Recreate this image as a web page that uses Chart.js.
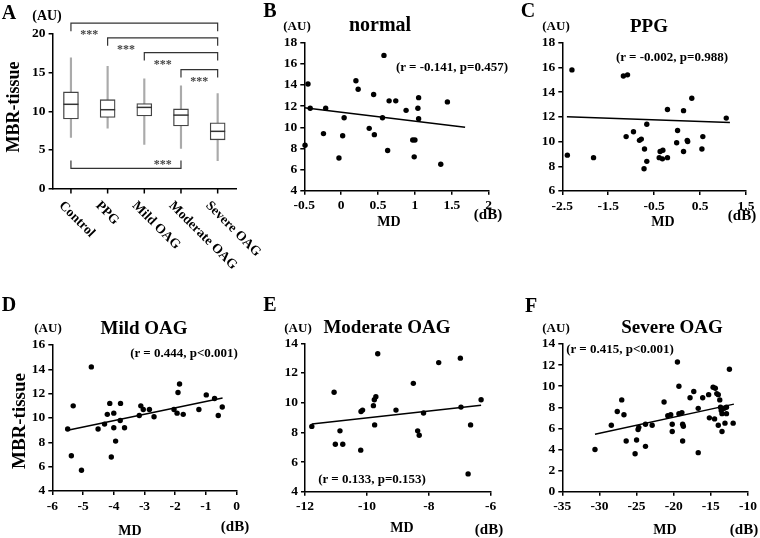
<!DOCTYPE html>
<html>
<head>
<meta charset="utf-8">
<script src="https://cdn.jsdelivr.net/npm/chart.js@4.4.1/dist/chart.umd.min.js"></script>
<style>
    body { margin: 0; width: 760px; height: 538px; position: relative; background: #fff; overflow: hidden;
           font-family: "Liberation Serif", "Times New Roman", serif; font-weight: bold; color: #000; }
    canvas { position: absolute; }
    .t { position: absolute; white-space: nowrap; line-height: 1; transform: translate(-50%, -50%); z-index: 2; }
    .r { transform: translate(-50%, -50%) rotate(-90deg); }
</style>
</head>
<body>
<canvas id="cA" width="275" height="270" style="left:0;top:0"></canvas>
<canvas id="cB" width="255" height="270" style="left:250px;top:0"></canvas>
<canvas id="cC" width="255" height="270" style="left:505px;top:0"></canvas>
<canvas id="cD" width="250" height="268" style="left:0;top:270px"></canvas>
<canvas id="cE" width="255" height="268" style="left:250px;top:270px"></canvas>
<canvas id="cF" width="255" height="268" style="left:505px;top:270px"></canvas>

<!-- panel A -->
<div class="t" style="left:9px;top:12px;font-size:20px">A</div>
<div class="t" style="left:47px;top:16px;font-size:14px">(AU)</div>
<div class="t r" style="left:13px;top:107px;font-size:18px">MBR-tissue</div>
<!-- panel B -->
<div class="t" style="left:270px;top:10px;font-size:20px">B</div>
<div class="t" style="left:297px;top:25px;font-size:13px">(AU)</div>
<div class="t" style="left:380px;top:24px;font-size:20px">normal</div>
<div class="t" style="left:452px;top:66px;font-size:13px">(r = -0.141, p=0.457)</div>
<div class="t" style="left:389px;top:222px;font-size:14px">MD</div>
<div class="t" style="left:488px;top:214px;font-size:15px">(dB)</div>
<!-- panel C -->
<div class="t" style="left:528px;top:10px;font-size:20px">C</div>
<div class="t" style="left:556px;top:25px;font-size:13px">(AU)</div>
<div class="t" style="left:649px;top:25px;font-size:19px">PPG</div>
<div class="t" style="left:672px;top:56px;font-size:13px">(r = -0.002, p=0.988)</div>
<div class="t" style="left:663px;top:222px;font-size:14px">MD</div>
<div class="t" style="left:742px;top:215px;font-size:15px">(dB)</div>
<!-- panel D -->
<div class="t" style="left:9px;top:304px;font-size:20px">D</div>
<div class="t" style="left:48px;top:327px;font-size:13px">(AU)</div>
<div class="t" style="left:144px;top:327px;font-size:19px">Mild OAG</div>
<div class="t r" style="left:18px;top:421px;font-size:19px">MBR-tissue</div>
<div class="t" style="left:184px;top:352px;font-size:13px">(r = 0.444, p&lt;0.001)</div>
<div class="t" style="left:130px;top:531px;font-size:14px">MD</div>
<div class="t" style="left:235px;top:526px;font-size:15px">(dB)</div>
<!-- panel E -->
<div class="t" style="left:270px;top:304px;font-size:20px">E</div>
<div class="t" style="left:298px;top:327px;font-size:13px">(AU)</div>
<div class="t" style="left:387px;top:326px;font-size:19px">Moderate OAG</div>
<div class="t" style="left:372px;top:478px;font-size:13px">(r = 0.133, p=0.153)</div>
<div class="t" style="left:402px;top:528px;font-size:14px">MD</div>
<div class="t" style="left:489px;top:529px;font-size:15px">(dB)</div>
<!-- panel F -->
<div class="t" style="left:531px;top:305px;font-size:20px">F</div>
<div class="t" style="left:556px;top:327px;font-size:13px">(AU)</div>
<div class="t" style="left:672px;top:326px;font-size:19px">Severe OAG</div>
<div class="t" style="left:620px;top:348px;font-size:13px">(r = 0.415, p&lt;0.001)</div>
<div class="t" style="left:665px;top:530px;font-size:14px">MD</div>
<div class="t" style="left:744px;top:529px;font-size:15px">(dB)</div>

<script>
// ---- panel A: MBR-tissue by group (box plot) ----
const groups = ["Control", "PPG", "Mild OAG", "Moderate OAG", "Severe OAG"];
const whiskerLow = [6.6, 7.8, 5.7, 5.2, 3.6];
const q1 = [9.0, 9.2, 9.4, 8.1, 6.3];
const medians = [10.9, 10.2, 10.5, 9.5, 7.4];
const q3 = [12.5, 11.5, 11.0, 10.3, 8.5];
const whiskerHigh = [16.9, 15.8, 14.2, 13.3, 12.3];

// significance brackets (group index from/to, height in AU)
const bracketFrom = [0, 1, 2, 3, 0];
const bracketTo = [4, 4, 4, 4, 3];
const bracketLevel = [21.4, 19.5, 17.6, 15.4, 2.6];

// ---- panels B-F: MBR-tissue vs MD ----
const normalMD = [-0.49, -0.45, -0.42, -0.21, -0.24, -0.03, 0.02, 0.04, 0.20, 0.23, 0.38, 0.44, 0.45, 0.58, 0.56, 0.63, 0.65, 0.74, 0.88, 0.97, 1.00, 0.99, 1.04, 1.05, 1.05, 1.35, 1.44];
const normalMBR = [8.3, 14.1, 11.8, 11.8, 9.4, 7.1, 9.2, 10.9, 14.4, 13.6, 9.9, 13.1, 9.3, 16.8, 10.9, 7.8, 12.5, 12.5, 11.6, 8.8, 8.8, 7.2, 11.8, 12.8, 10.8, 6.5, 12.4];
const normalFitX = [-0.5, 1.68];
const normalFitY = [11.85, 10.0];

const ppgMD = [-2.39, -2.29, -1.82, -1.17, -1.08, -1.11, -0.95, -0.82, -0.78, -0.71, -0.72, -0.66, -0.66, -0.39, -0.37, -0.31, -0.32, -0.21, -0.21, -0.01, 0.01, 0.14, 0.14, 0.22, 0.23, 0.32, 0.54, 0.56, 1.07];
const ppgMBR = [8.9, 15.8, 8.7, 15.3, 15.4, 10.4, 10.8, 10.1, 10.2, 9.4, 7.8, 8.4, 11.4, 8.7, 9.2, 9.3, 8.6, 8.7, 12.6, 9.9, 10.9, 12.5, 9.2, 10.1, 10.0, 13.5, 9.4, 10.4, 11.9];
const ppgFitX = [-2.4, 1.15];
const ppgFitY = [12.0, 11.55];

const mildMD = [-5.50, -5.32, -5.38, -5.05, -4.73, -4.51, -4.30, -4.21, -4.13, -4.08, -4.00, -4.00, -3.94, -3.78, -3.79, -3.65, -3.17, -3.12, -3.04, -2.84, -2.69, -2.04, -1.94, -1.91, -1.86, -1.74, -1.23, -0.99, -0.72, -0.60, -0.47];
const mildMBR = [9.1, 11.0, 6.9, 5.7, 14.2, 9.1, 9.5, 10.3, 11.2, 6.8, 10.4, 9.2, 8.1, 11.2, 9.8, 9.2, 10.2, 11.0, 10.7, 10.7, 10.1, 10.7, 10.4, 12.1, 12.8, 10.3, 10.7, 11.9, 11.6, 10.2, 10.9];
const mildFitX = [-5.5, -0.46];
const mildFitY = [9.0, 11.65];

const moderateMD = [-11.78, -11.06, -11.02, -10.87, -10.78, -10.20, -10.19, -10.14, -9.79, -9.76, -9.71, -9.75, -9.65, -9.06, -8.50, -8.36, -8.31, -8.17, -7.68, -6.98, -6.96, -6.73, -6.65, -6.31];
const moderateMBR = [8.4, 10.7, 7.2, 8.1, 7.2, 6.8, 9.4, 9.5, 9.8, 10.2, 10.4, 8.5, 13.3, 9.5, 11.3, 8.1, 7.8, 9.3, 12.7, 13.0, 9.7, 5.2, 8.5, 10.2];
const moderateFitX = [-11.78, -6.31];
const moderateFitY = [8.56, 9.82];

const severeMD = [-30.6, -28.4, -27.6, -27.0, -26.7, -26.4, -25.2, -25.0, -24.8, -24.7, -23.8, -23.8, -22.9, -21.3, -20.8, -20.4, -20.2, -20.2, -19.5, -19.3, -19.3, -18.9, -18.8, -18.7, -18.8, -17.8, -17.3, -16.7, -16.7, -16.1, -15.3, -15.2, -14.7, -14.5, -14.4, -14.2, -14.0, -14.0, -13.8, -13.7, -13.6, -13.5, -13.5, -13.2, -13.1, -12.9, -12.9, -12.5, -12.0];
const severeMBR = [4.0, 6.3, 7.6, 8.7, 7.3, 4.8, 3.6, 4.9, 5.9, 6.1, 6.4, 4.3, 6.3, 8.5, 7.2, 7.3, 6.4, 5.7, 12.3, 10.0, 7.4, 7.5, 6.4, 6.2, 4.8, 8.9, 9.5, 7.9, 3.7, 8.9, 9.2, 7.0, 9.9, 6.9, 9.8, 9.3, 9.2, 6.3, 8.7, 8.0, 7.7, 7.4, 5.7, 7.9, 6.5, 7.4, 8.0, 11.6, 6.5];
const severeFitX = [-30.6, -11.9];
const severeFitY = [5.45, 8.3];

const serif = "'Liberation Serif', 'Times New Roman', serif";
const tickFont = { family: serif, weight: "bold", size: 13.5 };

Chart.defaults.animation = false;
Chart.defaults.responsive = false;
Chart.defaults.plugins.legend.display = false;
Chart.defaults.plugins.tooltip.enabled = false;

// fixed scale boxes so the plot frames line up across panels
const Y_W = 34;
const X_H = 26;

// insets from the canvas edge to the plot frame
function pad(left, top, right, bottom) {
    return { left: left - Y_W, top, right, bottom: bottom - X_H };
}

function axisStyle() {
    return {
        grid: { display: true, drawOnChartArea: false, drawTicks: true, tickLength: 4, color: "#000", lineWidth: 1.5 },
        border: { display: true, color: "#000", width: 1.5 },
    };
}

const fmt = (v) => String(Math.round(v * 100) / 100);

function scatterPanel(id, padding, xs, ys, fitX, fitY, xr, yr) {
    const el = document.getElementById(id);
    return new Chart(el.getContext("2d"), {
        type: "scatter",
        data: {
            datasets: [
                {
                    data: xs.map((x, i) => ({ x, y: ys[i] })),
                    backgroundColor: "#000",
                    borderWidth: 0,
                    pointRadius: 2.7,
                    clip: false,
                },
                {
                    type: "line",
                    data: fitX.map((x, i) => ({ x, y: fitY[i] })),
                    borderColor: "#000",
                    borderWidth: 1.5,
                    pointRadius: 0,
                    fill: false,
                    clip: false,
                },
            ],
        },
        options: {
            layout: { padding },
            scales: {
                x: {
                    type: "linear", min: xr[0], max: xr[1], ...axisStyle(),
                    ticks: { stepSize: xr[2], font: tickFont, color: "#000", padding: 3, maxRotation: 0, autoSkip: false, callback: fmt },
                    afterFit: (s) => { s.height = X_H; },
                },
                y: {
                    type: "linear", min: yr[0], max: yr[1], ...axisStyle(),
                    ticks: { stepSize: yr[2], font: tickFont, color: "#000", padding: 3, autoSkip: false, callback: fmt },
                    afterFit: (s) => { s.width = Y_W; },
                },
            },
        },
    });
}

// medians, brackets, category tick marks and slanted group labels for the box plot
const boxExtras = {
    id: "boxExtras",
    afterDatasetsDraw(chart) {
        const { ctx, scales: { x, y } } = chart;
        const boxes = chart.getDatasetMeta(0).data;
        ctx.save();
        ctx.strokeStyle = "#333";
        ctx.lineWidth = 1.5;
        medians.forEach((m, i) => {
            const half = boxes[i].width / 2;
            const px = x.getPixelForValue(i);
            const py = y.getPixelForValue(m);
            ctx.beginPath();
            ctx.moveTo(px - half, py);
            ctx.lineTo(px + half, py);
            ctx.stroke();
        });

        // short tick under each group
        ctx.strokeStyle = "#000";
        groups.forEach((g, i) => {
            const px = x.getPixelForValue(i);
            ctx.beginPath();
            ctx.moveTo(px, x.top);
            ctx.lineTo(px, x.top + 5);
            ctx.stroke();
        });

        ctx.strokeStyle = "#333";
        ctx.lineWidth = 1.2;
        ctx.font = "bold 12px " + serif;
        ctx.fillStyle = "#444";
        ctx.textAlign = "center";
        ctx.textBaseline = "middle";
        bracketLevel.forEach((lv, k) => {
            const x1 = x.getPixelForValue(bracketFrom[k]);
            const x2 = x.getPixelForValue(bracketTo[k]);
            const py = y.getPixelForValue(lv);
            const below = lv < 5;
            const dy = below ? -8 : 8;
            ctx.beginPath();
            ctx.moveTo(x1, py + dy);
            ctx.lineTo(x1, py);
            ctx.lineTo(x2, py);
            ctx.lineTo(x2, py + dy);
            ctx.stroke();
            const sx = below
                ? (x.getPixelForValue(bracketTo[k] - 1) + x2) / 2
                : (x1 + x.getPixelForValue(bracketFrom[k] + 1)) / 2;
            ctx.fillText("***", sx, below ? py - 4 : py + 12);
        });

        ctx.fillStyle = "#000";
        ctx.font = "bold 13.5px " + serif;
        ctx.textAlign = "left";
        groups.forEach((g, i) => {
            ctx.save();
            ctx.translate(x.getPixelForValue(i) - 10, x.top + 15);
            ctx.rotate(Math.PI / 4);
            ctx.fillText(g, 0, 0);
            ctx.restore();
        });
        ctx.restore();
    },
};

new Chart(document.getElementById("cA").getContext("2d"), {
    type: "bar",
    data: {
        labels: groups,
        datasets: [
            {
                data: q1.map((v, i) => [v, q3[i]]),
                backgroundColor: "#fff",
                borderColor: "#444",
                borderWidth: 1.3,
                borderSkipped: false,
                barThickness: 15,
                grouped: false,
                order: 0,
            },
            {
                data: whiskerLow.map((v, i) => [v, whiskerHigh[i]]),
                backgroundColor: "#aaa",
                borderWidth: 0,
                barThickness: 1.5,
                grouped: false,
                order: 1,
            },
        ],
    },
    options: {
        layout: { padding: pad(52.6, 34, 39, 81.5) },
        scales: {
            x: {
                type: "category", offset: true,
                grid: { display: false },
                border: { display: true, color: "#000", width: 1.5 },
                ticks: { display: false },
                afterFit: (s) => { s.height = X_H; },
            },
            y: {
                min: 0, max: 20, ...axisStyle(),
                ticks: { stepSize: 5, font: tickFont, color: "#000", padding: 3 },
                afterFit: (s) => { s.width = Y_W; },
            },
        },
    },
    plugins: [boxExtras],
});

scatterPanel("cB", pad(54.3, 42.7, 16.3, 79.3), normalMD, normalMBR, normalFitX, normalFitY, [-0.5, 2, 0.5], [4, 18, 2]);
scatterPanel("cC", pad(57.3, 42.7, 14, 79), ppgMD, ppgMBR, ppgFitX, ppgFitY, [-2.5, 1.5, 1], [6, 18, 2]);
scatterPanel("cD", pad(52.3, 75, 13.3, 47), mildMD, mildMBR, mildFitX, mildFitY, [-6, 0, 1], [4, 16, 2]);
scatterPanel("cE", pad(55, 73.3, 14.3, 46.3), moderateMD, moderateMBR, moderateFitX, moderateFitY, [-12, -6, 2], [4, 14, 2]);
scatterPanel("cF", pad(57.3, 74, 11.7, 46.3), severeMD, severeMBR, severeFitX, severeFitY, [-35, -10, 5], [0, 14, 2]);
</script>
</body>
</html>
